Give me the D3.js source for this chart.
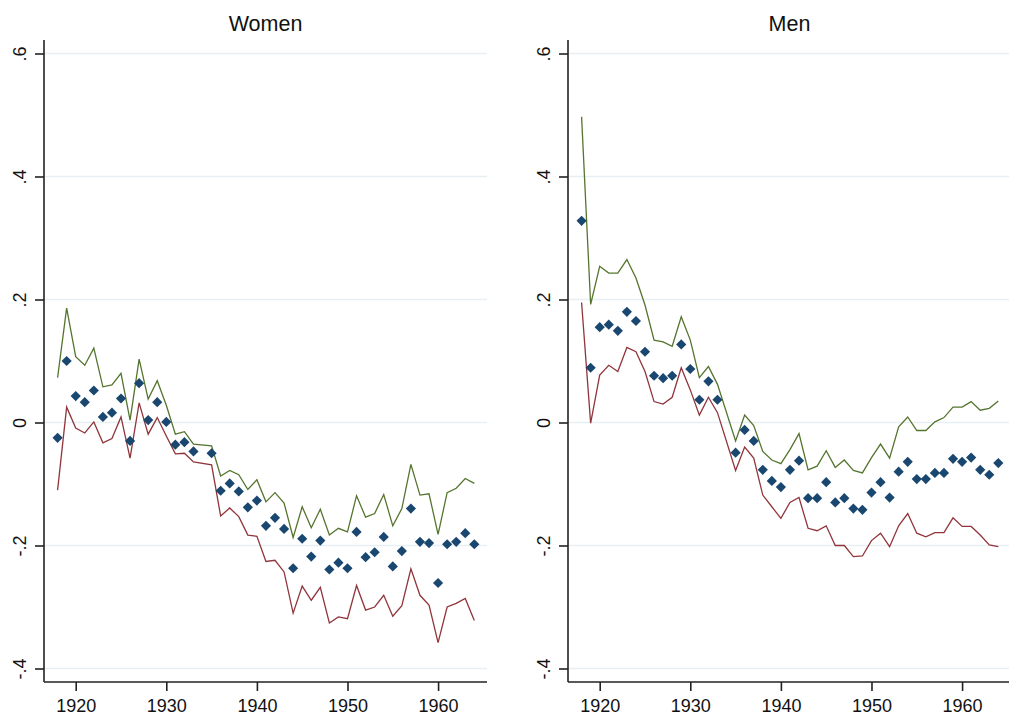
<!DOCTYPE html>
<html><head><meta charset="utf-8">
<script src="https://cdn.jsdelivr.net/npm/d3@7"></script>
<style>body{margin:0;background:#fff;} text{font-family:"Liberation Sans",Arial,sans-serif;}</style>
</head><body><svg id="c" width="1009" height="717"></svg>
<script>
const years = [1918,1919,1920,1921,1922,1923,1924,1925,1926,1927,1928,1929,1930,1931,1932,1933,
1935,1936,1937,1938,1939,1940,1941,1942,1943,1944,1945,1946,1947,1948,1949,1950,1951,1952,1953,1954,
1955,1956,1957,1958,1959,1960,1961,1962,1963,1964];
const panelTitles = ["Women","Men"];
const xTicks = [1920,1930,1940,1950,1960];
const yTicks = [-0.4,-0.2,0,0.2,0.4,0.6];
const yTickLabels = ["-.4","-.2","0",".2",".4",".6"];

const womenEst = [-0.025,0.100,0.043,0.033,0.052,0.009,0.016,0.039,-0.030,0.064,0.004,0.033,0.001,-0.036,-0.032,-0.047,
-0.050,-0.111,-0.099,-0.112,-0.138,-0.127,-0.168,-0.155,-0.173,-0.237,-0.189,-0.218,-0.192,-0.239,-0.228,-0.237,-0.178,-0.219,-0.211,-0.186,
-0.234,-0.209,-0.140,-0.194,-0.196,-0.261,-0.198,-0.194,-0.180,-0.198];
const womenHi = [0.073,0.186,0.107,0.093,0.121,0.058,0.061,0.080,0.004,0.103,0.038,0.068,0.028,-0.019,-0.015,-0.035,
-0.038,-0.087,-0.078,-0.085,-0.109,-0.093,-0.129,-0.114,-0.131,-0.187,-0.137,-0.171,-0.141,-0.183,-0.172,-0.178,-0.119,-0.154,-0.148,-0.117,
-0.168,-0.140,-0.068,-0.118,-0.116,-0.182,-0.114,-0.107,-0.091,-0.099];
const womenLo = [-0.110,0.025,-0.009,-0.017,0.001,-0.033,-0.026,0.009,-0.058,0.032,-0.019,0.008,-0.022,-0.051,-0.050,-0.064,
-0.069,-0.152,-0.139,-0.153,-0.183,-0.185,-0.226,-0.224,-0.243,-0.310,-0.266,-0.289,-0.268,-0.326,-0.316,-0.319,-0.265,-0.305,-0.300,-0.281,
-0.315,-0.298,-0.238,-0.281,-0.297,-0.358,-0.300,-0.294,-0.286,-0.322];

const menEst = [0.328,0.089,0.155,0.159,0.149,0.180,0.165,0.115,0.076,0.072,0.076,0.127,0.087,0.037,0.067,0.037,
-0.049,-0.012,-0.030,-0.077,-0.095,-0.105,-0.077,-0.062,-0.123,-0.123,-0.097,-0.130,-0.123,-0.140,-0.142,-0.114,-0.097,-0.122,-0.080,-0.064,
-0.092,-0.092,-0.082,-0.082,-0.059,-0.064,-0.057,-0.077,-0.085,-0.066];
const menHi = [0.497,0.192,0.254,0.243,0.243,0.265,0.235,0.191,0.134,0.131,0.124,0.172,0.134,0.073,0.091,0.062,
-0.030,0.012,-0.005,-0.047,-0.061,-0.067,-0.044,-0.018,-0.077,-0.071,-0.046,-0.073,-0.061,-0.078,-0.082,-0.057,-0.035,-0.058,-0.007,0.009,
-0.013,-0.013,0.001,0.008,0.025,0.025,0.034,0.020,0.023,0.035];
const menLo = [0.195,-0.001,0.077,0.093,0.083,0.122,0.115,0.083,0.034,0.030,0.041,0.089,0.053,0.012,0.041,0.016,
-0.078,-0.040,-0.058,-0.118,-0.137,-0.156,-0.130,-0.122,-0.172,-0.176,-0.168,-0.200,-0.200,-0.218,-0.217,-0.192,-0.180,-0.202,-0.168,-0.148,
-0.180,-0.186,-0.179,-0.179,-0.155,-0.169,-0.169,-0.183,-0.199,-0.202];

const panels = [
  {title: panelTitles[0], est: womenEst, hi: womenHi, lo: womenLo, left: 44},
  {title: panelTitles[1], est: menEst, hi: menHi, lo: menLo, left: 568}
];

const svg = d3.select("#c");
const plotW = 443, plotTop = 40, plotBottom = 682;
const y = d3.scaleLinear().domain([-0.4, 0.6]).range([668.5, 53.5]);
const colEst = "#1a476f", colHi = "#55752f", colLo = "#90353b", axisCol = "#222";

panels.forEach(p => {
  const x = d3.scaleLinear().domain([1916.5, 1965.4]).range([p.left, p.left + plotW]);
  const g = svg.append("g");
  g.selectAll(".grid").data(yTicks).enter().append("line")
    .attr("x1", p.left).attr("x2", p.left + plotW)
    .attr("y1", d => y(d)).attr("y2", d => y(d))
    .attr("stroke", "#e6eff3").attr("stroke-width", 1.3);
  g.append("text").attr("x", p.left + plotW / 2).attr("y", 31)
    .attr("text-anchor", "middle").attr("font-size", 21.5).attr("fill", "#111").text(p.title);
  const yAxis = d3.axisLeft(y).tickValues(yTicks).tickSize(9)
    .tickFormat((d, i) => yTickLabels[i]);
  const ya = g.append("g").attr("transform", `translate(${p.left},0)`).call(yAxis);
  ya.select(".domain").attr("d", `M0,${plotTop}V${plotBottom}`).attr("stroke", axisCol).attr("stroke-width", 1.6);
  ya.selectAll(".tick line").attr("stroke", axisCol).attr("stroke-width", 1.6);
  ya.selectAll(".tick text").attr("font-size", 18).attr("fill", "#111")
    .attr("font-family", "Liberation Sans, Arial, sans-serif")
    .attr("x", 0).attr("y", -24).attr("dy", "0.35em").attr("text-anchor", "middle")
    .attr("transform", "rotate(-90)");
  const xAxis = d3.axisBottom(x).tickValues(xTicks).tickSize(9).tickFormat(d3.format("d"));
  const xa = g.append("g").attr("transform", `translate(0,${plotBottom})`).call(xAxis);
  xa.select(".domain").attr("d", `M${p.left},0H${p.left + plotW}`).attr("stroke", axisCol).attr("stroke-width", 1.6);
  xa.selectAll(".tick line").attr("stroke", axisCol).attr("stroke-width", 1.6);
  xa.selectAll(".tick text").attr("font-size", 18).attr("fill", "#111")
    .attr("font-family", "Liberation Sans, Arial, sans-serif").attr("y", 17);

  const line = d3.line().x(d => x(d[0])).y(d => y(d[1]));
  g.append("path").datum(years.map((yr, i) => [yr, p.hi[i]]))
    .attr("d", line).attr("fill", "none").attr("stroke", colHi).attr("stroke-width", 1.3);
  g.append("path").datum(years.map((yr, i) => [yr, p.lo[i]]))
    .attr("d", line).attr("fill", "none").attr("stroke", colLo).attr("stroke-width", 1.3);
  const sym = d3.symbol().type(d3.symbolSquare).size(52);
  g.selectAll(".pt").data(years.map((yr, i) => [yr, p.est[i]])).enter().append("path")
    .attr("d", sym).attr("fill", colEst)
    .attr("transform", d => `translate(${x(d[0])},${y(d[1])}) rotate(45)`);
});
</script></body></html>
